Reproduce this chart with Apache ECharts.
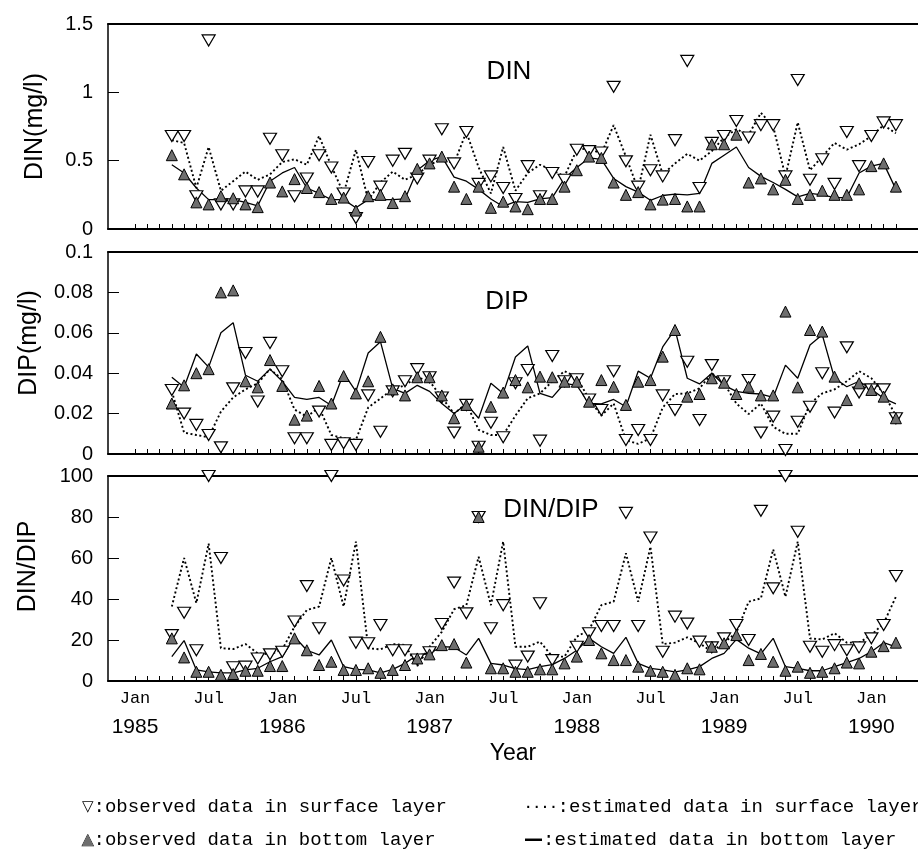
<!DOCTYPE html>
<html><head><meta charset="utf-8">
<script src="https://cdn.jsdelivr.net/npm/echarts@6/dist/echarts.min.js"></script>
<style>html,body{margin:0;padding:0;background:#fff}#c{width:918px;height:850px}</style>
</head><body><div id="c"></div>
<script>
// month index: 0 = Jan 1985
const months = [3,4,5,6,7,8,9,10,11,12,13,14,15,16,17,18,19,20,21,22,23,24,25,26,27,28,29,30,31,32,33,34,35,36,37,38,39,40,41,42,43,44,45,46,47,48,49,50,51,52,53,54,55,56,57,58,59,60,61,62];
const tickMonths = [0,1,2,3,4,5,6,7,8,9,10,11,12,13,14,15,16,17,18,19,20,21,22,23,24,25,26,27,28,29,30,31,32,33,34,35,36,37,38,39,40,41,42,43,44,45,46,47,48,49,50,51,52,53,54,55,56,57,58,59,60,61,62];
const labelMonths = [0,6,12,18,24,30,36,42,48,54,60];
const monthNames = ['Jan','Jul'];
const yearLabels = ['1985','1986','1987','1988','1989','1990'];

const dinSurfObs = [0.68,0.68,0.24,1.38,0.18,0.18,0.275,0.275,0.66,0.54, 0.24,0.37,0.54,0.45,0.26,0.08,0.49,0.31,0.50,0.55, 0.37,0.50,0.73,0.48,0.71,0.33,0.385,0.30,0.22,0.46, 0.24,0.41,0.36,0.58,0.57,0.56,1.04,0.495,0.31,0.43, 0.385,0.65,1.23,0.30,0.63,0.68,0.79,0.67,0.76,0.76, 0.385,1.09,0.36,0.51,0.33,0.71,0.46,0.68,0.78,0.76];
const dinBotObs = [0.54,0.40,0.195,0.18,0.24,0.225,0.18,0.16,0.34,0.275, 0.365,0.30,0.27,0.22,0.23,0.135,0.24,0.25,0.19,0.24, 0.44,0.48,0.53,0.31,0.22,0.31,0.155,0.20,0.165,0.145, 0.22,0.22,0.31,0.43,0.53,0.52,0.34,0.25,0.27,0.18, 0.215,0.22,0.165,0.165,0.62,0.62,0.69,0.34,0.37,0.29, 0.36,0.22,0.25,0.28,0.25,0.25,0.29,0.46,0.48,0.31];
const dinSurfEst = [0.65,0.63,0.30,0.60,0.28,0.35,0.42,0.36,0.40,0.49, 0.51,0.47,0.68,0.46,0.26,0.58,0.21,0.34,0.42,0.36, 0.40,0.47,0.51,0.48,0.71,0.45,0.26,0.60,0.28,0.41, 0.47,0.43,0.385,0.58,0.59,0.55,0.76,0.53,0.29,0.69, 0.40,0.48,0.55,0.50,0.57,0.67,0.73,0.69,0.85,0.75, 0.385,0.78,0.43,0.53,0.63,0.58,0.62,0.68,0.76,0.70];
const dinBotEst = [0.47,0.41,0.30,0.215,0.215,0.215,0.195,0.17,0.35,0.41, 0.45,0.30,0.26,0.215,0.215,0.155,0.215,0.215,0.215,0.22, 0.43,0.50,0.53,0.38,0.35,0.29,0.22,0.165,0.20,0.195, 0.22,0.23,0.37,0.45,0.52,0.51,0.37,0.31,0.27,0.21, 0.245,0.255,0.25,0.26,0.48,0.54,0.60,0.45,0.385,0.34, 0.29,0.235,0.26,0.25,0.23,0.23,0.41,0.46,0.48,0.29];

const dipSurfObs = [0.0317,0.020,0.0144,0.0094,0.0033,0.0325,0.050,0.026,0.055,0.041, 0.0078,0.0078,0.021,0.0045,0.0053,0.0045,0.029,0.011,0.031,0.036, 0.042,0.038,0.028,0.0106,0.0243,0.0036,0.0155,0.0083,0.035,0.0416, 0.0066,0.0485,0.036,0.037,0.027,0.0218,0.041,0.0069,0.0119,0.0069, 0.029,0.0218,0.0457,0.0168,0.044,0.036,null,0.0366,0.0106,0.0185, 0.002,0.016,0.0234,0.040,0.0205,0.0528,0.0304,0.032,0.032,0.0177];
const dipBotObs = [0.025,0.034,0.040,0.042,0.080,0.081,0.036,0.033,0.0465,0.0337, 0.017,0.019,0.0337,0.025,0.0386,0.030,0.036,0.058,0.032,0.029, 0.038,0.038,0.029,0.0177,0.0243,0.0036,0.0234,0.0304,0.0366,0.033, 0.0383,0.038,0.0358,0.0358,0.0259,0.0366,0.0333,0.0243,0.0358,0.0366, 0.0482,0.0614,0.0284,0.0297,0.0375,0.0353,0.0297,0.0333,0.029,0.029, 0.0705,0.033,0.0614,0.0606,0.0383,0.0267,0.035,0.0317,0.0284,0.0177];
const dipSurfEst = [0.031,0.0106,0.0094,0.0083,0.021,0.028,0.032,0.035,0.042,0.037, 0.022,0.0185,0.023,0.0094,0.0078,0.007,0.023,0.0275,0.032,0.034, 0.038,0.036,0.028,0.020,0.025,0.012,0.0094,0.0094,0.019,0.0276, 0.030,0.036,0.041,0.038,0.027,0.019,0.025,0.0069,0.005,0.0078, 0.023,0.0297,0.030,0.0325,0.040,0.035,0.025,0.0198,0.025,0.0135, 0.010,0.010,0.025,0.030,0.032,0.036,0.041,0.0375,0.030,0.019];
const dipBotEst = [0.038,0.033,0.0495,0.043,0.060,0.065,0.039,0.036,0.042,0.036, 0.028,0.027,0.028,0.024,0.040,0.031,0.050,0.0556,0.0325,0.030, 0.034,0.031,0.025,0.020,0.0248,0.0177,0.035,0.030,0.048,0.0535, 0.030,0.028,0.035,0.034,0.025,0.0248,0.027,0.0234,0.041,0.0375, 0.053,0.0617,0.0375,0.0347,0.040,0.034,0.031,0.030,0.0297,0.028, 0.044,0.0375,0.054,0.059,0.0375,0.0333,0.036,0.032,0.0276,0.0248];

const ratioSurfObs = [22.4,33.3,15,100,60,6.7,7,11,13,14.3, 29,46.3,25.7,100,49,18.7,18.4,27.3,15,15, 10.5,14,27.8,48,33,80,25.7,37,7.5,11.9, 37.9,10.2,null,16.7,23.3,26.8,26.8,82,26.8,70, 14.3,31.4,28,19.2,16.4,20.8,27.3,20,83,45.2, 100,72.8,16.7,14.3,17.5,15,16.4,20.8,27.3,51.2];
const ratioBotObs = [20.8,11.5,4.5,4.5,3,3.4,5,5,7.3,7.3, 20.8,15,7.8,9.4,5.4,5.4,6.2,4,5.4,7.8, 11,13,17.5,18,9,80,6.2,6.2,4.5,4.5, 5.7,5.7,8.6,11.9,20,13.5,10.2,10.2,7,5, 4.5,3,6.2,5.7,16.7,18.4,22.4,10.2,13.2,9.4, 5,7,4,4.5,6.2,9,8.6,14.3,17,18.7];
const ratioSurfEst = [36.3,60,38,67,16,15.6,18,13.5,13,15.4, 26.5,34.6,36.3,60,36.3,68,16,15.4,18,17.6, 7.3,16.7,24,35,37,60.6,37,68,16.7,16.7, 19.2,11.9,11.9,21.6,24.9,37,38.7,62.3,38.7,65.5, 18,18.7,21.3,18.4,14.3,18.7,23.6,38.7,40.3,64.2, 41.1,68,20.8,20.3,23.3,18.7,18.7,22.4,28.1,41.1];
const ratioBotEst = [11.9,19.7,5.4,4.5,4,4,5.4,6.2,9.4,11.9, 21.6,15,12.7,20,7,5.7,5.4,4,5.7,8.6, 12.7,13.5,16.7,16.5,12.7,20.8,8.6,7.8,6,5.5, 7,8,11,15,20.8,16.7,13.5,21.3,8.6,6.2, 5.4,4.5,5.4,7,11,13.5,20.3,16,13.2,20.8, 7,6.2,5,5,7,9,11,14.3,18.7,16.7];

const panelTitles = ['DIN','DIP','DIN/DIP'];
const yNames = ['DIN(mg/l)','DIP(mg/l)','DIN/DIP'];
const seriesNames = ['observed data in surface layer','observed data in bottom layer','estimated data in surface layer','estimated data in bottom layer'];
const legendSymbols = ['▽','▲','····','—'];

const SANS = "'Liberation Sans', Arial, sans-serif";
const MONO = "'Liberation Mono', 'DejaVu Sans Mono', monospace";

function pairs(arr){ const out=[]; months.forEach((m,i)=>{ if(arr[i]!=null) out.push([m,arr[i]]); }); return out; }

const panels = [
  {top:24, height:205, min:0, max:1.5, interval:0.5, gap:60, shift:0, data:[dinSurfObs,dinBotObs,dinSurfEst,dinBotEst]},
  {top:252, height:202, min:0, max:0.1, interval:0.02, gap:66, shift:20, data:[dipSurfObs,dipBotObs,dipSurfEst,dipBotEst]},
  {top:476, height:205, min:0, max:100, interval:20, gap:67, shift:24, data:[ratioSurfObs,ratioBotObs,ratioSurfEst,ratioBotEst]}
];
const XMIN=-2.2, XMAX=63.8;

const grid=[], xAxis=[], yAxis=[], series=[];
panels.forEach((p,i)=>{
  grid.push({left:108, right:0, top:p.top, height:p.height});
  xAxis.push({
    type:'value', gridIndex:i, min:XMIN, max:XMAX, position:'bottom',
    axisLine:{show:true, onZero:false, lineStyle:{color:'#000', width:2}},
    axisTick:{show:true, inside:true, length:5, customValues:tickMonths, lineStyle:{color:'#000', width:1}},
    splitLine:{show:false},
    axisLabel: i===2 ? {
      show:true, customValues:labelMonths, margin:7, color:'#000',
      formatter:function(v){ const m=Math.round(v); const k=m%12; if(k===0) return '{a|'+monthNames[0]+'}\n{b|'+yearLabels[m/12]+'}'; if(k===6) return '{a|'+monthNames[1]+'}'; return ''; },
      rich:{a:{fontFamily:MONO, fontSize:17, lineHeight:20, color:'#000'}, b:{fontFamily:SANS, fontSize:21, lineHeight:38, color:'#000'}}
    } : {show:false},
    name: i===2 ? 'Year' : '', nameLocation:'middle', nameGap:61,
    nameTextStyle:{fontFamily:SANS, fontSize:23, color:'#000'}
  });
  xAxis.push({
    type:'value', gridIndex:i, min:XMIN, max:XMAX, position:'top',
    axisLine:{show:true, onZero:false, lineStyle:{color:'#000', width:2}},
    axisTick:{show:false}, axisLabel:{show:false}, splitLine:{show:false}
  });
  yAxis.push({
    type:'value', gridIndex:i, min:p.min, max:p.max, interval:p.interval,
    axisLine:{show:true, onZero:false, lineStyle:{color:'#000', width:1.5}},
    axisTick:{show:true, inside:true, length:11, lineStyle:{color:'#000', width:1}},
    axisLabel:{margin:15, fontFamily:SANS, fontSize:20, color:'#000'},
    splitLine:{show:false},
    name:yNames[i], nameLocation:'middle', nameGap:p.gap,
    nameTextStyle:{fontFamily:SANS, fontSize:25, color:'#000', padding:[0,0,0,p.shift]}
  });
  const xi=i*2;
  series.push({name:seriesNames[2], type:'line', xAxisIndex:xi, yAxisIndex:i, data:pairs(p.data[2]), symbol:'none', showSymbol:false, z:2,
    lineStyle:{color:'#000', width:1.9, type:[2,2.5]}, itemStyle:{color:'#000'}});
  series.push({name:seriesNames[3], type:'line', xAxisIndex:xi, yAxisIndex:i, data:pairs(p.data[3]), symbol:'none', showSymbol:false, z:2,
    lineStyle:{color:'#000', width:1.3, type:'solid'}, itemStyle:{color:'#000'}});
  series.push({name:seriesNames[0], type:'scatter', xAxisIndex:xi, yAxisIndex:i, data:pairs(p.data[0]), symbol:'triangle', symbolRotate:180, symbolSize:[13,11], z:3,
    itemStyle:{color:'#fff', borderColor:'#000', borderWidth:1.2, opacity:1}});
  series.push({name:seriesNames[1], type:'scatter', xAxisIndex:xi, yAxisIndex:i, data:pairs(p.data[1]), symbol:'triangle', symbolSize:[11,11], z:4,
    itemStyle:{color:'#6e6e6e', borderColor:'#000', borderWidth:1, opacity:1}});
});

const titlePos = [[509,72],[507,302],[551,510]];
const graphic = panelTitles.map((t,i)=>({type:'text', x:titlePos[i][0], y:titlePos[i][1], z:10,
  style:{text:t, fontFamily:SANS, fontSize:26, fill:'#000', align:'center', verticalAlign:'middle'}}));

// legend rows (text)
const legendPos = [[82,807],[82,840],[524,807],[524,840]];
const symStyles = [
  {fontFamily:"'DejaVu Sans', sans-serif", fontSize:15, fill:'#000'},
  {fontFamily:"'DejaVu Sans', sans-serif", fontSize:15, fill:'#6e6e6e', stroke:'#000', lineWidth:0.8},
  {fontFamily:MONO, fontSize:14, fill:'#000', fontWeight:'bold'},
  {fontFamily:"'DejaVu Sans', sans-serif", fontSize:19, fill:'#000', fontWeight:'bold'}
];
seriesNames.forEach((n,i)=>{
  graphic.push({type:'text', x:legendPos[i][0], y:legendPos[i][1], z:10,
    style:{text:'{s|'+legendSymbols[i]+'}:'+n, fontFamily:MONO, fontSize:19, fill:'#000', align:'left', verticalAlign:'middle',
      rich:{s:symStyles[i]}}});
});

const chart = echarts.init(document.getElementById('c'), null, {renderer:'canvas'});
chart.setOption({
  animation:false,
  backgroundColor:'#fff',
  grid, xAxis, yAxis, series, graphic
});
</script></body></html>
